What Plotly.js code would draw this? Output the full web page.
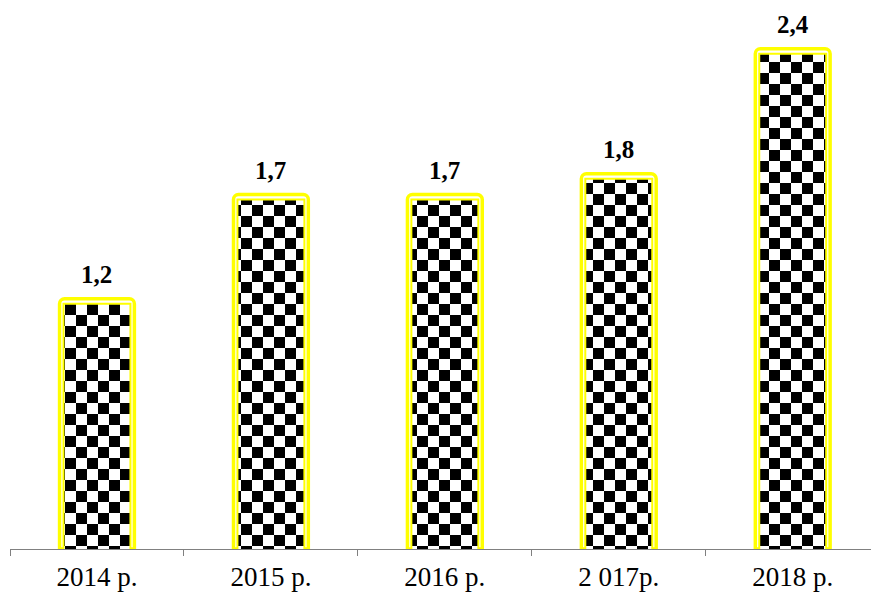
<!DOCTYPE html>
<html>
<head>
<meta charset="utf-8">
<script src="https://cdn.plot.ly/plotly-3.0.1.min.js"></script>
<style>
html,body{margin:0;padding:0;background:#fff;}
#chart{width:871px;height:595px;}
</style>
</head>
<body>
<div id="chart"></div>
<script>
var categories = ['2014 р.', '2015 р.', '2016 р.', '2 017р.', '2018 р.'];
var values = [1.2, 1.7, 1.7, 1.8, 2.4];
var valueLabels = ['1,2', '1,7', '1,7', '1,8', '2,4'];

var SERIF = '"Liberation Serif", "Times New Roman", Times, serif';

var outer = {
  type: 'bar',
  x: categories,
  y: values,
  width: 0.43,
  marker: {color: '#ffffff', line: {color: '#ffff00', width: 3.5}, cornerradius: 5},
  hoverinfo: 'skip'
};
var inner = {
  type: 'bar',
  x: categories,
  y: values,
  yaxis: 'y2',
  width: 0.385,
  marker: {
    color: '#ffffff',
    line: {color: '#ffff00', width: 2},
    pattern: {shape: '+', fgcolor: '#000', bgcolor: '#fff', size: 11, solidity: 0.5}
  },
  hoverinfo: 'skip'
};

var annotations = categories.map(function (c, i) {
  return {
    x: c, y: values[i], xref: 'x', yref: 'y',
    text: '<b>' + valueLabels[i] + '</b>',
    showarrow: false, yanchor: 'bottom', yshift: 9,
    font: {family: SERIF, size: 25, color: '#000'}
  };
});

var layout = {
  width: 871, height: 595,
  margin: {l: 10, r: 0, t: 7, b: 46},
  paper_bgcolor: '#fff', plot_bgcolor: '#fff',
  barmode: 'overlay',
  showlegend: false,
  annotations: annotations,
  xaxis: {
    type: 'category',
    range: [-0.5, 4.45],
    showline: true, linecolor: '#808080', linewidth: 1,
    ticks: 'outside', tickson: 'boundaries', ticklen: 6, tickcolor: '#808080',
    ticklabelstandoff: 4,
    showgrid: false, zeroline: false,
    tickfont: {family: SERIF, size: 27, color: '#000'}
  },
  yaxis: {range: [0, 2.6], visible: false, showgrid: false, zeroline: false},
  yaxis2: {range: [0.024, 2.624], overlaying: 'y', visible: false, showgrid: false, zeroline: false}
};

Plotly.newPlot('chart', [outer, inner], layout, {staticPlot: true}).then(function (gd) {
  var svgNS = 'http://www.w3.org/2000/svg';
  var defs = gd.querySelector('.main-svg defs');
  var pat = document.createElementNS(svgNS, 'pattern');
  pat.setAttribute('id', 'checkerfill');
  pat.setAttribute('patternUnits', 'userSpaceOnUse');
  pat.setAttribute('width', 22);
  pat.setAttribute('height', 22);
  var parts = [[0, 0, 22, 22, '#fff'], [0, 0, 11, 11, '#000'], [11, 11, 11, 11, '#000']];
  parts.forEach(function (p) {
    var r = document.createElementNS(svgNS, 'rect');
    r.setAttribute('x', p[0]); r.setAttribute('y', p[1]);
    r.setAttribute('width', p[2]); r.setAttribute('height', p[3]);
    r.setAttribute('fill', p[4]);
    pat.appendChild(r);
  });
  defs.appendChild(pat);
  var traces = gd.querySelectorAll('.barlayer .trace');
  if (traces.length > 1) {
    traces[1].querySelectorAll('path').forEach(function (pth) {
      pth.style.fill = 'url(#checkerfill)';
    });
  }
});
</script>
</body>
</html>
